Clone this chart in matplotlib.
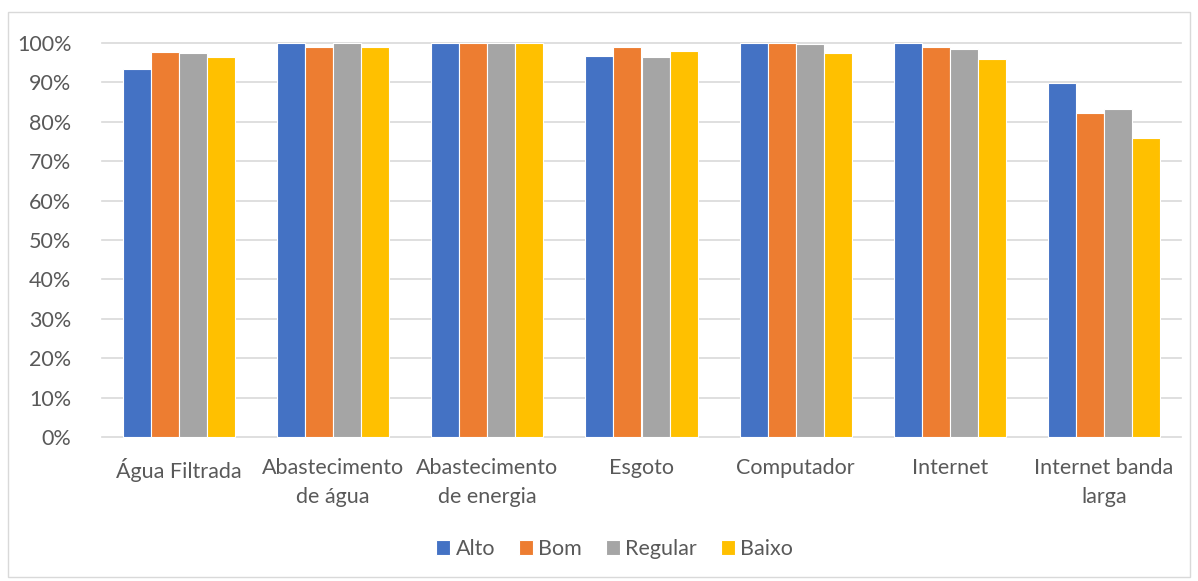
import numpy as np
import matplotlib
matplotlib.use('Agg')
import matplotlib.pyplot as plt
from matplotlib.patches import Rectangle
from matplotlib.ticker import PercentFormatter

plt.rcParams['font.family'] = ['Lato', 'DejaVu Sans']

categorias = ['Água Filtrada', 'Abastecimento\nde água', 'Abastecimento\nde energia',
              'Esgoto', 'Computador', 'Internet', 'Internet banda\nlarga']
series = ['Alto', 'Bom', 'Regular', 'Baixo']
alto = [93.3, 100, 100, 96.7, 100, 100, 89.9]
bom = [97.6, 98.9, 100, 98.9, 100, 98.9, 82.2]
regular = [97.5, 100, 100, 96.4, 99.7, 98.4, 83.2]
baixo = [96.5, 99.1, 100, 98.0, 97.5, 96.0, 76.0]
cores = ['#4472C4', '#ED7D31', '#A5A5A5', '#FFC000']

fig = plt.figure(figsize=(11.98, 5.81), dpi=100)
fig.patches.append(Rectangle((8 / 1198, 4 / 581), 1182 / 1198, 565 / 581,
                             transform=fig.transFigure, fill=False,
                             edgecolor='#D9D9D9', linewidth=1))
ax = fig.add_axes([102 / 1198, 144 / 581, 1079 / 1198, 394 / 581])

x = np.arange(len(categorias))
largura = 0.182
for i, (nome, valores) in enumerate(zip(series, [alto, bom, regular, baixo])):
    ax.bar(x + (i - 1.5) * largura, np.array(valores) / 100, largura,
           color=cores[i], edgecolor='white', linewidth=0.8, label=nome,
           zorder=3, clip_on=False)

ax.set_xlim(-0.5, len(categorias) - 0.5)
ax.set_ylim(0, 1.0)
ax.set_yticks(np.arange(0, 1.01, 0.1))
ax.yaxis.set_major_formatter(PercentFormatter(1.0, decimals=0))
ax.grid(axis='y', color='#D9D9D9', linewidth=1.2, zorder=0)
for g in ax.get_ygridlines():
    g.set_clip_on(False)
for s in ax.spines.values():
    s.set_visible(False)
ax.set_xticks(x)
ax.set_xticklabels(categorias, linespacing=1.55)
ax.tick_params(axis='both', length=0, labelsize=15.5, labelcolor='#595959')
ax.tick_params(axis='x', pad=15)
ax.tick_params(axis='y', pad=22)

fig.legend(loc='center', bbox_to_anchor=(0.513, 0.055), ncol=4, frameon=False,
           fontsize=15.5, labelcolor='#595959', handlelength=0.65, handleheight=0.65,
           handletextpad=0.25, columnspacing=1.1)

fig.savefig('out.png', dpi=100)
